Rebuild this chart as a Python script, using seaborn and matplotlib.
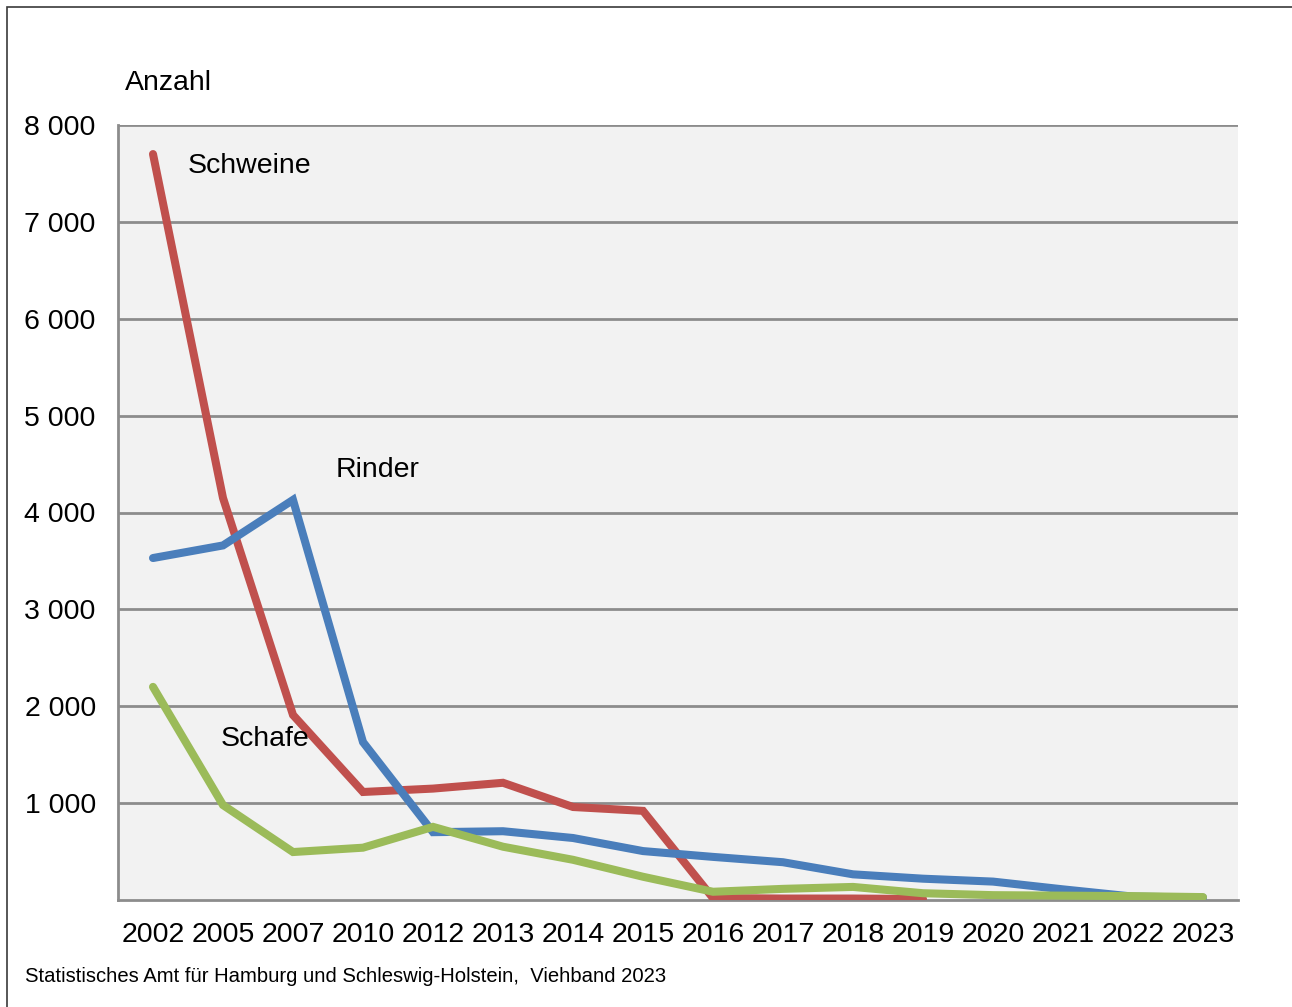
import numpy as np
import pandas as pd
import matplotlib
matplotlib.use("Agg")
import matplotlib.pyplot as plt
import seaborn as sns
from matplotlib.patches import Rectangle

# Daten
jahre = ["2002", "2005", "2007", "2010", "2012", "2013", "2014", "2015",
         "2016", "2017", "2018", "2019", "2020", "2021", "2022", "2023"]
schweine = [7700, 4150, 1910, 1115, 1150, 1210, 960, 920,
            20, 15, 15, 10, np.nan, np.nan, np.nan, np.nan]
rinder = [3530, 3660, 4130, 1630, 700, 710, 640, 505,
          445, 390, 265, 220, 190, 110, 35, 25]
schafe = [2200, 980, 495, 540, 755, 550, 415, 240,
          85, 115, 135, 70, 50, 45, 40, 30]
serien = ["Schweine", "Rinder", "Schafe"]
farben = {"Schweine": "#c0504d", "Rinder": "#4a7ebb", "Schafe": "#9bbb59"}

df = pd.DataFrame({
    "pos": list(range(len(jahre))) * 3,
    "wert": schweine + rinder + schafe,
    "art": [s for s in serien for _ in jahre],
})

sns.set_style("white")
plt.rcParams["font.family"] = ["Liberation Sans", "DejaVu Sans"]
plt.rcParams["text.color"] = "black"
plt.rcParams["xtick.labelcolor"] = "black"
plt.rcParams["ytick.labelcolor"] = "black"

fig = plt.figure(figsize=(12.92, 10.07), dpi=100)
ax = fig.add_axes([118 / 1292, 107 / 1007, 1120 / 1292, 775 / 1007])
ax.set_facecolor("#f2f2f2")

sns.lineplot(data=df, x="pos", y="wert", hue="art", palette=farben,
             linewidth=5.8, legend=False, ax=ax, zorder=3,
             solid_capstyle="round", solid_joinstyle="miter")

ax.set_xlim(-0.5, len(jahre) - 0.5)
ax.set_ylim(0, 8000)

# Gitter und Achsen
fs = 20.5
yt = np.arange(0, 8001, 1000)
ax.set_yticks(yt)
ax.set_yticklabels([""] + [f"{v:,}".replace(",", " ") for v in yt[1:]], fontsize=fs)
for v in yt[1:]:
    ax.axhline(v, color="#8c8c8c", lw=2, zorder=1)
ax.set_xticks(range(len(jahre)))
ax.set_xticklabels(jahre, fontsize=fs)
ax.set_xticks(np.arange(-0.5, len(jahre)), minor=True)
ax.tick_params(axis="x", which="major", length=0, pad=16)
ax.tick_params(axis="x", which="minor", length=8, width=1.5, color="#8c8c8c", direction="out")
ax.tick_params(axis="y", length=8, width=1.5, color="#8c8c8c", direction="out", pad=8)
for s in ["top", "right"]:
    ax.spines[s].set_visible(False)
for s in ["left", "bottom"]:
    ax.spines[s].set_color("#8c8c8c")
    ax.spines[s].set_linewidth(2)
ax.set_xlabel("")
ax.set_ylabel("")

# Beschriftungen
ax.text(0.5, 7580, "Schweine", fontsize=fs, va="center", ha="left")
ax.text(2.61, 4440, "Rinder", fontsize=fs, va="center", ha="left")
ax.text(0.96, 1660, "Schafe", fontsize=fs, va="center", ha="left", zorder=4)
fig.text(125 / 1292, 1 - 83 / 1007, "Anzahl", fontsize=fs, va="center", ha="left")
fig.text(25 / 1292, 1 - 977 / 1007,
         "Statistisches Amt für Hamburg und Schleswig-Holstein,  Viehband 2023",
         fontsize=14.6, va="center", ha="left")

# Rahmen
fig.patches.append(Rectangle((7 / 1292, -0.1), 1.2, 1 - 7 / 1007 + 0.1,
                             transform=fig.transFigure, fill=False,
                             edgecolor="#3a3a3a", lw=1.2))

fig.savefig("out.png", dpi=100)
